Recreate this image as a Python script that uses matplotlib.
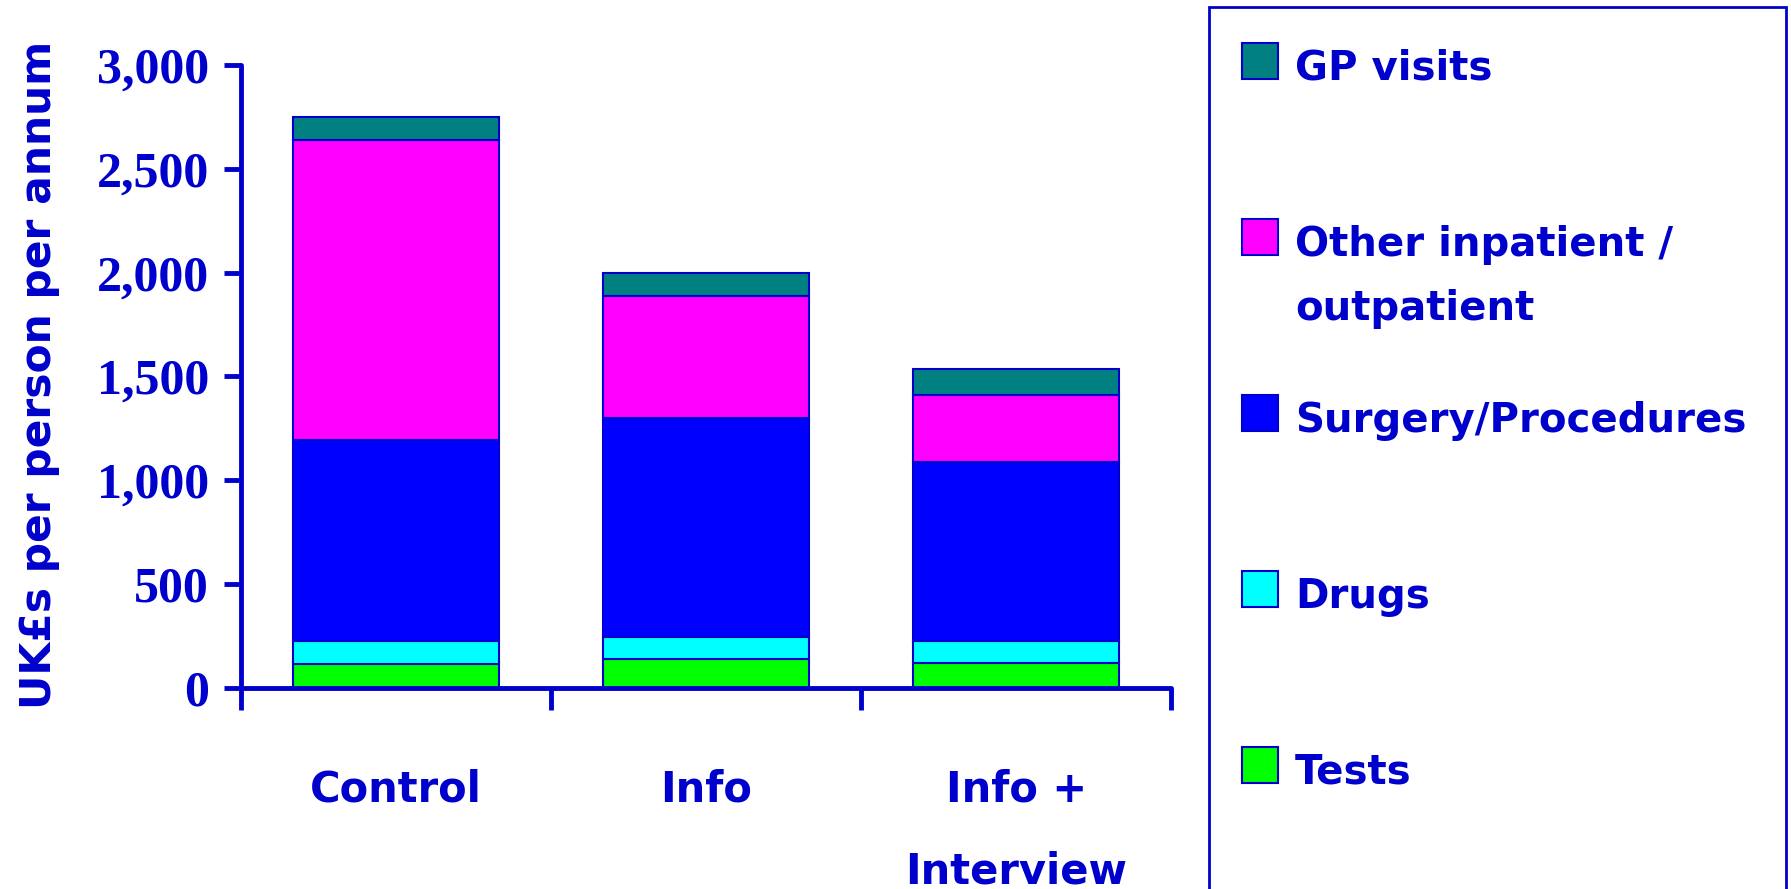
import matplotlib.pyplot as plt
from matplotlib.patches import Rectangle
import numpy as np

groups = ["Control", "Info", "Info +\nInterview"]
series = ["Tests", "Drugs", "Surgery/Procedures", "Other inpatient /\noutpatient", "GP visits"]
tests = [117, 138, 119]
drugs = [107, 106, 107]
surgery = [972, 1057, 862]
other = [1442, 588, 321]
gp = [111, 111, 128]
colours = ["#00FF00", "#00FFFF", "#0000FF", "#FF00FF", "#008080"]

ink = "#0000CC"
label_font = "DejaVu Sans"
W, H = 1791, 889

fig = plt.figure(figsize=(W / 100, H / 100), dpi=100)
ax = fig.add_axes([0.1346, 0.2261, 0.5193, 0.7008])

x = np.arange(len(groups))
bottom = np.zeros(len(groups))
bars = []
for vals, col in zip([tests, drugs, surgery, other, gp], colours):
    b = ax.bar(x, vals, width=0.665, bottom=bottom, color=col,
               edgecolor=ink, linewidth=1.5)
    bars.append(b)
    bottom += np.array(vals)

ax.set_xlim(-0.5, 2.5)
ax.set_ylim(0, 3000)
ax.set_yticks(np.arange(0, 3001, 500))
ax.set_yticklabels([f"{v:,}" for v in range(0, 3001, 500)],
                   fontfamily="Liberation Serif", fontweight="bold",
                   fontsize=36, color=ink)
ax.set_xticks(x)
ax.set_xticklabels(groups, fontfamily=label_font, fontweight="bold",
                   fontsize=30, color=ink, linespacing=2.2, va="top")
ax.set_xticks([-0.5, 0.5, 1.5, 2.5], minor=True)
ax.tick_params(axis="x", which="major", length=0, pad=58)
ax.tick_params(axis="x", which="minor", length=16, width=3.5, color=ink, direction="out")
ax.tick_params(axis="y", length=12, width=3.5, color=ink, pad=11)

for s in ["top", "right"]:
    ax.spines[s].set_visible(False)
for s in ["left", "bottom"]:
    ax.spines[s].set_color(ink)
    ax.spines[s].set_linewidth(3.5)
    ax.spines[s].set_capstyle("round")

ax.set_ylabel("UK£s per person per annum", fontfamily=label_font,
              fontweight="bold", fontsize=30.5, color=ink)
ax.yaxis.set_label_coords(-0.195, 0.502)

# legend drawn by hand, top entry first
fig.patches.append(Rectangle((1209 / W, -0.05), (1786 - 1209) / W, 1.042,
                             transform=fig.transFigure, fill=False,
                             edgecolor=ink, linewidth=2))
baselines = [80, 256, 432, 608, 784]
for base, name, b in zip(baselines, series[::-1], bars[::-1]):
    fig.patches.append(Rectangle((1242 / W, 1 - (base - 1) / H), 36 / W, 36 / H,
                                 transform=fig.transFigure,
                                 facecolor=b.patches[0].get_facecolor(),
                                 edgecolor=ink, linewidth=1.5))
    for k, line in enumerate(name.split("\n")):
        fig.text(1295 / W, 1 - (base + 64 * k) / H, line, fontfamily=label_font,
                 fontweight="bold", fontsize=29, color=ink,
                 va="baseline", ha="left")

fig.savefig("out.png", dpi=100)
